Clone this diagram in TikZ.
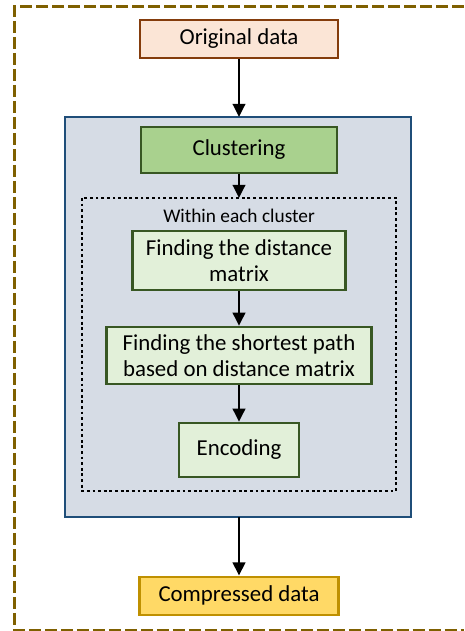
\documentclass[tikz,border=0pt]{standalone}
\usepackage{fontspec}
\setmainfont{Carlito}
\usepackage{tikz}
\usetikzlibrary{arrows.meta,positioning,calc,backgrounds}

\definecolor{origfill}{HTML}{FBE5D6}
\definecolor{origdraw}{HTML}{843C0C}
\definecolor{clustfill}{HTML}{A9D18E}
\definecolor{stepfill}{HTML}{E2F0D9}
\definecolor{stepdraw}{HTML}{385723}
\definecolor{bigfill}{HTML}{D6DCE5}
\definecolor{bigdraw}{HTML}{1F4E79}
\definecolor{compfill}{HTML}{FFD966}
\definecolor{compdraw}{HTML}{BF9000}
\definecolor{framedraw}{HTML}{7F6000}

\begin{document}
\begin{tikzpicture}[x=0.02cm, y=-0.02cm, every node/.style={align=center, font=\fontsize{13}{15}\selectfont}, node distance=2cm,
	box/.style={draw, line width=1.5pt, minimum height=0.76cm},
	stepbox/.style={draw=stepdraw, fill=stepfill, line width=1.3pt},
	post/.style={->, line width=1.7pt, >={Triangle[length=7.5pt,width=7pt]}}]

	\useasboundingbox (0,0) rectangle (464,631);

	\node [box, draw=origdraw, fill=origfill, minimum width=3.96cm] (OD) at (239,39) {Original data};
	\node [box, draw=stepdraw, fill=clustfill, minimum width=3.92cm, minimum height=0.92cm] (CL)
		[below of=OD, node distance=2.22cm] {Clustering};
	\node [stepbox, minimum width=4.26cm, minimum height=1.18cm] (DM)
		[below of=CL, node distance=2.21cm] {Finding the distance\\matrix};
	\node [stepbox, minimum width=5.3cm, minimum height=1.14cm] (SP)
		[below of=DM, node distance=1.9cm] {Finding the shortest path\\based on distance matrix};
	\node [stepbox, minimum width=2.4cm, minimum height=1.08cm] (EN)
		[below of=SP, node distance=1.89cm] {Encoding};
	\node [box, draw=compdraw, fill=compfill, minimum width=3.98cm] (CD)
		[below of=EN, node distance=2.92cm] {Compressed data};

	\node [font=\fontsize{11}{13}\selectfont] (WC) [above of=DM, node distance=0.89cm] {Within each cluster};

	\coordinate (BNW) at (65,117);
	\coordinate (BSE) at (411,517);
	\coordinate (DNW) at (82,198);
	\coordinate (DSE) at (396,491);

	\begin{scope}[on background layer]
		\draw[line width=1.2pt, draw=bigdraw, fill=bigfill] (BNW) rectangle (BSE);
	\end{scope}
	\draw[line width=1.6pt, dash pattern=on 1.6pt off 1.6pt] (DNW) rectangle (DSE);

	\draw[post] (OD) -- (OD |- BNW);
	\draw[post] (CL) -- (CL |- DNW);
	\draw[post] (DM) -- (SP);
	\draw[post] (SP) -- (EN);
	\draw[post] (CD |- BSE) -- (CD);

	% outer frame, runs past the right edge
	\draw[framedraw, line width=2.2pt, dash pattern=on 0.24cm off 0.08cm] (464,6.5) -- (14.5,6.5) -- (14.5,630.5) -- (464,630.5);

\end{tikzpicture}
\end{document}
